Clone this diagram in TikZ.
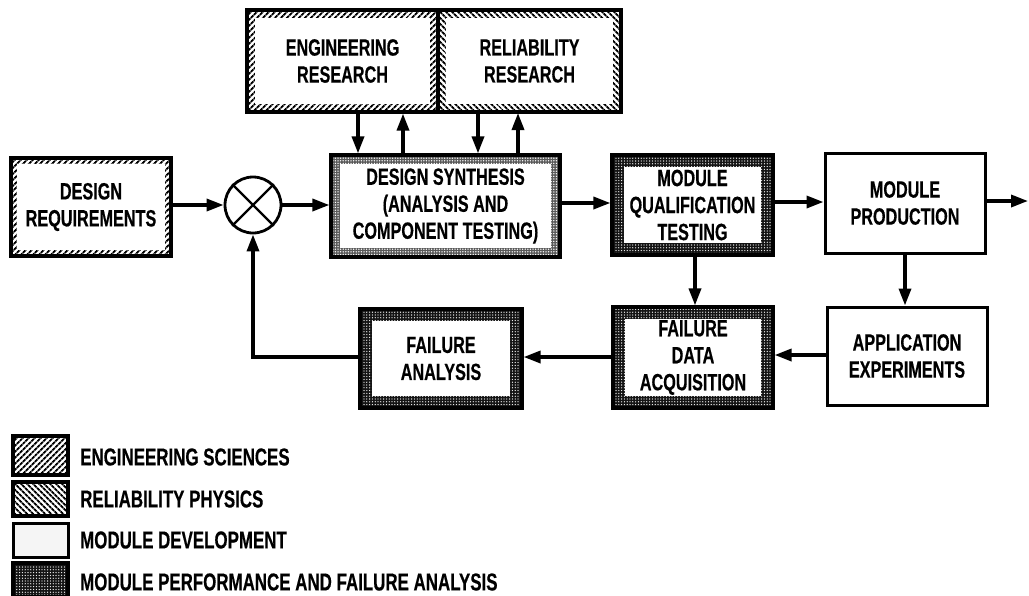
\documentclass[tikz,border=0pt]{standalone}
\usepackage{fontspec}
\setmainfont{Liberation Sans}[FakeStretch=0.69, BoldFeatures={FakeBold=0.4}]
\usetikzlibrary{arrows.meta,patterns.meta}
\begin{document}
\begin{tikzpicture}[x=1pt,y=-1pt,
  every node/.style={font=\fontsize{23.5}{27}\selectfont\bfseries, align=center, inner sep=0pt},
  inset/.style={path picture={\fill[white] ([shift={(#1,-#1)}]path picture bounding box.north west) rectangle ([shift={(-#1,#1)}]path picture bounding box.south east);}},
  eng/.style={draw, line width=3.2pt, pattern={Lines[angle=45,distance=4pt,line width=2pt]}},
  rel/.style={draw, line width=3.2pt, pattern={Lines[angle=-45,distance=4pt,line width=2pt]}},
  dev/.style={draw, line width=3.2pt, preaction={fill=black!65}, pattern={Dots[radius=0.75pt,distance=2.6pt]}, pattern color=white},
  perf/.style={draw, line width=3.2pt, preaction={fill=black!92}, pattern={Dots[radius=0.65pt,distance=2.8pt]}, pattern color=white},
  plain/.style={draw, line width=3pt, fill=white},
  arr/.style={line width=3.4pt, -{Triangle[length=17pt,width=12pt]}},
  leg/.style={anchor=west, font=\fontsize{24.5}{27}\selectfont\bfseries}
]
\useasboundingbox (0,0) rectangle (1029,595);

% blocks
\node[eng, inset=6pt, minimum width=160pt, minimum height=98pt] (dreq) at (91,207) {DESIGN\\REQUIREMENTS};
\node[circle, draw, line width=2.8pt, minimum size=56pt, fill=white] (circ) at (253,205) {};
\draw[line width=2.4pt] (circ.north west) -- (circ.south east) (circ.north east) -- (circ.south west);

\node[eng, inset=8pt, minimum width=191pt, minimum height=102pt] (er) at (342.5,61) {ENGINEERING\\RESEARCH};
\node[rel, inset=8pt, minimum width=183pt, minimum height=102pt] (rr) at (529.5,61) {RELIABILITY\\RESEARCH};

\node[dev, inset=9pt, minimum width=229pt, minimum height=102pt] (ds) at (445.5,206) {DESIGN SYNTHESIS\\(ANALYSIS AND\\COMPONENT TESTING)};
\node[perf, inset=12pt, minimum width=161pt, minimum height=100pt] (mqt) at (692.5,205) {MODULE\\QUALIFICATION\\TESTING};
\node[plain, minimum width=160pt, minimum height=100pt] (mp) at (905,203) {MODULE\\PRODUCTION};
\node[perf, inset=12pt, minimum width=160pt, minimum height=101pt] (fda) at (693,357.5) {FAILURE\\DATA\\ACQUISITION};
\node[plain, minimum width=160pt, minimum height=98pt] (ae) at (907,356) {APPLICATION\\EXPERIMENTS};
\node[perf, inset=12pt, minimum width=162pt, minimum height=99pt] (fa) at (441,358.5) {FAILURE\\ANALYSIS};

% connectors
\draw[arr] (dreq.east |- circ.west) -- (circ.west);
\draw[arr] (circ.east) -- (ds.west |- circ.east);
\draw[arr] (ds.east |- 0,203) -- (mqt.west |- 0,203);
\draw[arr] (mqt.east |- 0,202) -- (mp.west |- 0,202);
\coordinate (out) at (1028,201);
\draw[arr] (mp.east |- out) -- (out);

\draw[arr] (er.south -| 358,0) -- (ds.north -| 358,0);
\draw[arr] (ds.north -| 403,0) -- (er.south -| 403,0);
\draw[arr] (rr.south -| 478,0) -- (ds.north -| 478,0);
\draw[arr] (ds.north -| 518,0) -- (rr.south -| 518,0);

\draw[arr] (mqt.south -| 695,0) -- (fda.north -| 695,0);
\draw[arr] (mp.south -| 905,0) -- (ae.north -| 905,0);
\draw[arr] (ae.west |- 0,355) -- (fda.east |- 0,355);
\draw[arr] (fda.west |- 0,357) -- (fa.east |- 0,357);
\draw[arr] (fa.west |- 0,357) -| (circ.south);

% legend
\node[eng, minimum width=55pt, minimum height=39pt] (l1) at (40.5,455.5) {};
\node[rel, minimum width=55pt, minimum height=34pt] (l2) at (40.5,499) {};
\node[draw, line width=3pt, fill=black!4, minimum width=55pt, minimum height=34pt] (l3) at (40.5,540) {};
\node[perf, minimum width=55pt, minimum height=34pt] (l4) at (40.5,580) {};
\node[leg] (t1) at (80,457) {ENGINEERING SCIENCES};
\node[leg] (t2) at (80,499) {RELIABILITY PHYSICS};
\node[leg] (t3) at (80,540) {MODULE DEVELOPMENT};
\node[leg] (t4) at (80,582) {MODULE PERFORMANCE AND FAILURE ANALYSIS};
\end{tikzpicture}
\end{document}
